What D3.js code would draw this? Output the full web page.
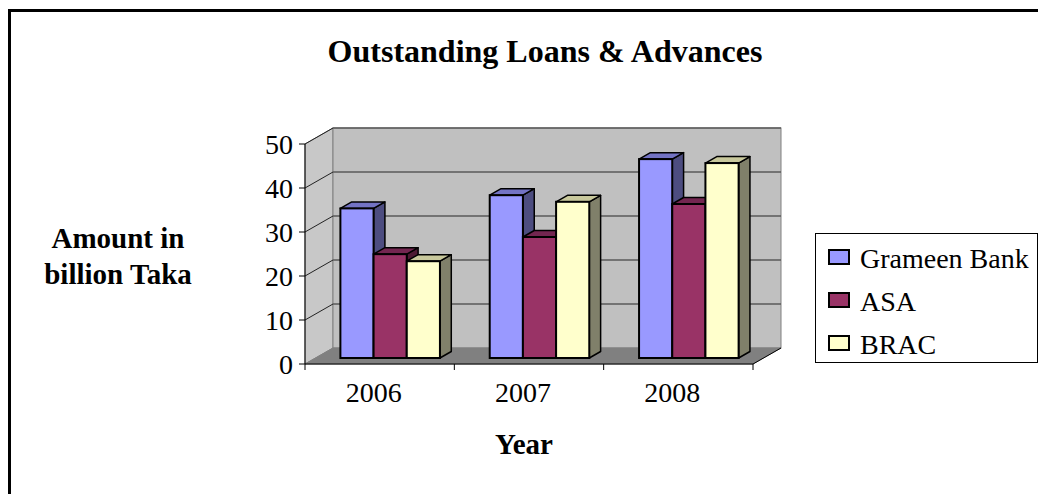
<!DOCTYPE html>
<html>
<head>
<meta charset="utf-8">
<script src="https://cdn.jsdelivr.net/npm/d3@7"></script>
<style>
  body { margin: 0; background: #fff; }
  text { font-family: "Liberation Serif", "Times New Roman", serif; }
</style>
</head>
<body>
<div id="chart"></div>
<script>
// data
var years = ["2006", "2007", "2008"];
var seriesNames = ["Grameen Bank", "ASA", "BRAC"];
var grameenBank = [34, 37, 45.2];
var asa = [23.6, 27.5, 35];
var brac = [22, 35.5, 44.3];
var yTicks = [0, 10, 20, 30, 40, 50];

var seriesValues = [grameenBank, asa, brac];
var fronts = ["#9999ff", "#993366", "#ffffcc"];
var tops = ["#7373c4", "#732650", "#c8c89c"];
var sides = ["#4d4d80", "#4d1a33", "#80806a"];

var W = 1038, H = 494;
var svg = d3.select("#chart")
    .append("svg")
    .attr("width", W)
    .attr("height", H);

// outer frame (runs off the right and bottom of the picture)
svg.append("rect")
    .attr("x", 9.5)
    .attr("y", 10.5)
    .attr("width", 1100)
    .attr("height", 600)
    .attr("fill", "none")
    .attr("stroke", "#000")
    .attr("stroke-width", 3);

svg.append("text")
    .attr("x", 545)
    .attr("y", 62)
    .attr("text-anchor", "middle")
    .style("font-size", "32px")
    .style("font-weight", "bold")
    .text("Outstanding Loans & Advances");

// plot geometry
var x0 = 305, x1 = 753;
var depthX = 28, depthY = -16;

var x = d3.scaleBand()
    .domain(years)
    .range([x0, x1]);

var y = d3.scaleLinear()
    .domain([0, 50])
    .range([364, 144]);

var barW = x.bandwidth() / 4.5;
var f1 = 0.375, f2 = 0.78;   // bar front / back depth fraction

function pts(a) { return a.map(function (p) { return p.join(","); }).join(" "); }

// left wall
svg.append("polygon")
    .attr("points", pts([[x0, y(0)], [x0, y(50)], [x0 + depthX, y(50) + depthY], [x0 + depthX, y(0) + depthY]]))
    .attr("fill", "#c8c8c8")
    .attr("stroke", "#808080");

// back wall
svg.append("rect")
    .attr("x", x0 + depthX)
    .attr("y", y(50) + depthY)
    .attr("width", x1 - x0)
    .attr("height", y(0) - y(50))
    .attr("fill", "#c0c0c0")
    .attr("stroke", "#808080");

// floor
svg.append("polygon")
    .attr("points", pts([[x0, y(0)], [x1, y(0)], [x1 + depthX, y(0) + depthY], [x0 + depthX, y(0) + depthY]]))
    .attr("fill", "#808080")
    .attr("stroke", "#808080");

// gridlines
yTicks.slice(1).forEach(function (t) {
    svg.append("line")
        .attr("x1", x0 + depthX).attr("x2", x1 + depthX)
        .attr("y1", y(t) + depthY).attr("y2", y(t) + depthY)
        .attr("stroke", "#5a5a5a")
        .attr("stroke-width", 1.3);
    svg.append("line")
        .attr("x1", x0).attr("x2", x0 + depthX)
        .attr("y1", y(t)).attr("y2", y(t) + depthY)
        .attr("stroke", "#222")
        .attr("stroke-width", 1);
});

// floor right edge
svg.append("line")
    .attr("x1", x1).attr("y1", y(0))
    .attr("x2", x1 + depthX).attr("y2", y(0) + depthY)
    .attr("stroke", "#000");

// axes
svg.append("line")
    .attr("x1", x0).attr("x2", x0)
    .attr("y1", y(50)).attr("y2", y(0))
    .attr("stroke", "#000");
svg.append("line")
    .attr("x1", x0).attr("x2", x1)
    .attr("y1", y(0)).attr("y2", y(0))
    .attr("stroke", "#000");

yTicks.forEach(function (t) {
    svg.append("line")
        .attr("x1", x0 - 6).attr("x2", x0)
        .attr("y1", y(t)).attr("y2", y(t))
        .attr("stroke", "#000");
    svg.append("text")
        .attr("x", x0 - 12)
        .attr("y", y(t))
        .attr("dy", "0.35em")
        .attr("text-anchor", "end")
        .style("font-size", "28px")
        .text(t);
});

x.domain().concat(["end"]).forEach(function (d, i) {
    var xx = x0 + i * x.step();
    svg.append("line")
        .attr("x1", xx).attr("x2", xx)
        .attr("y1", y(0)).attr("y2", y(0) + 6)
        .attr("stroke", "#000");
});

years.forEach(function (d) {
    svg.append("text")
        .attr("x", x(d) + x.bandwidth() / 2 - 6)
        .attr("y", 402)
        .attr("text-anchor", "middle")
        .style("font-size", "28px")
        .text(d);
});

// bars
years.forEach(function (d, i) {
    seriesValues.forEach(function (vals, s) {
        var v = vals[i];
        var fx = x(d) + 0.75 * barW + s * barW + depthX * f1;
        var fy0 = y(0) + depthY * f1;
        var fyTop = y(v) + depthY * f1;
        var ddx = depthX * (f2 - f1), ddy = depthY * (f2 - f1);
        // side
        svg.append("polygon")
            .attr("points", pts([[fx + barW, fy0], [fx + barW, fyTop], [fx + barW + ddx, fyTop + ddy], [fx + barW + ddx, fy0 + ddy]]))
            .attr("fill", sides[s])
            .attr("stroke", "#000")
            .attr("stroke-width", 1.5)
            .attr("stroke-linejoin", "round");
        // top
        svg.append("polygon")
            .attr("points", pts([[fx, fyTop], [fx + barW, fyTop], [fx + barW + ddx, fyTop + ddy], [fx + ddx, fyTop + ddy]]))
            .attr("fill", tops[s])
            .attr("stroke", "#000")
            .attr("stroke-width", 1.5)
            .attr("stroke-linejoin", "round");
        // front
        svg.append("rect")
            .attr("x", fx)
            .attr("y", fyTop)
            .attr("width", barW)
            .attr("height", fy0 - fyTop)
            .attr("fill", fronts[s])
            .attr("stroke", "#000")
            .attr("stroke-width", 2);
    });
});

// axis titles
svg.append("text")
    .attr("x", 118)
    .attr("y", 248)
    .attr("text-anchor", "middle")
    .style("font-size", "29px")
    .style("font-weight", "bold")
    .text("Amount in");
svg.append("text")
    .attr("x", 118)
    .attr("y", 284)
    .attr("text-anchor", "middle")
    .style("font-size", "29px")
    .style("font-weight", "bold")
    .text("billion Taka");

svg.append("text")
    .attr("x", 524)
    .attr("y", 454)
    .attr("text-anchor", "middle")
    .style("font-size", "29px")
    .style("font-weight", "bold")
    .text("Year");

// legend
var legend = svg.append("g");
legend.append("rect")
    .attr("x", 815.5)
    .attr("y", 233.5)
    .attr("width", 222)
    .attr("height", 129)
    .attr("fill", "#fff")
    .attr("stroke", "#000");

seriesNames.forEach(function (name, s) {
    var ry = 257 + s * 43;
    legend.append("rect")
        .attr("x", 829)
        .attr("y", ry - 7)
        .attr("width", 20)
        .attr("height", 14)
        .attr("fill", fronts[s])
        .attr("stroke", "#000")
        .attr("stroke-width", 2);
    legend.append("text")
        .attr("x", 860)
        .attr("y", ry + 11)
        .style("font-size", "28px")
        .text(name);
});
</script>
</body>
</html>
